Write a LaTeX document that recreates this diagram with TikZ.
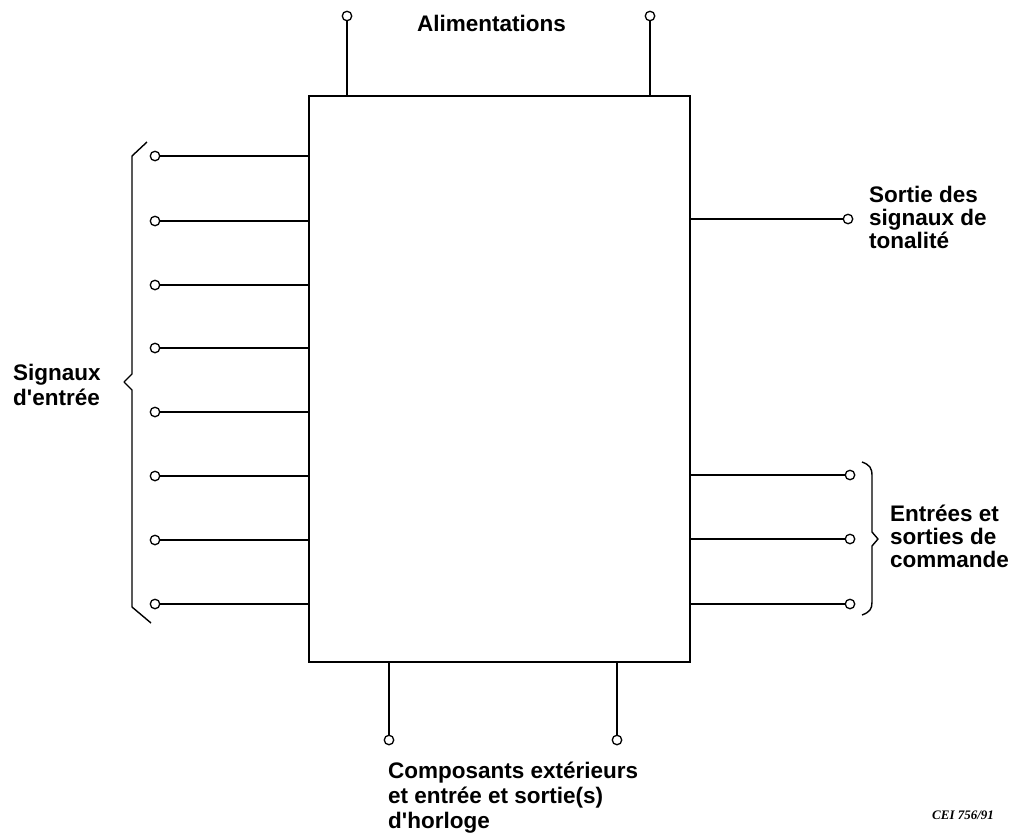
\documentclass[tikz,border=0pt]{standalone}
\usepackage{fontspec}
\setmainfont{Liberation Sans}
\newfontfamily\ceifont{Liberation Serif}
\begin{document}
\begin{tikzpicture}[x=1pt,y=-1pt,
  term/.style={circle,draw,line width=1.3pt,inner sep=0pt,minimum size=9.5pt,fill=white},
  wire/.style={line width=1.4pt},
  lab/.style={font=\bfseries\fontsize{22.5}{24}\selectfont,inner sep=0pt,align=left},
  brace/.style={line width=1.4pt,line join=round}]
\useasboundingbox (0,0) rectangle (1013,833);
\node[draw,line width=1.8pt,minimum width=381pt,minimum height=566pt,inner sep=0pt] (box) at (499.5,379) {};
% top
\node[term] (t1) at (347,16) {};
\node[term] (t2) at (650,16) {};
\draw[wire] (t1) -- (t1 |- box.north);
\draw[wire] (t2) -- (t2 |- box.north);
% left
\foreach \i/\y in {1/156,2/221,3/285,4/348,5/412,6/476,7/540,8/604}{
  \node[term] (l\i) at (155,\y) {};
  \draw[wire] (l\i) -- (l\i -| box.west);
}
% right
\node[term] (r0) at (848,219) {};
\draw[wire] (r0) -- (r0 -| box.east);
\foreach \i/\y in {1/475,2/539,3/604}{
  \node[term] (r\i) at (850,\y) {};
  \draw[wire] (r\i) -- (r\i -| box.east);
}
% bottom
\node[term] (b1) at (389,740) {};
\node[term] (b2) at (617,740) {};
\draw[wire] (b1) -- (b1 |- box.south);
\draw[wire] (b2) -- (b2 |- box.south);
% braces
\coordinate (lbA) at (147,142);
\coordinate (lbB) at (151,623);
\draw[brace] (lbA) -- (132,156) -- (132,374) -- (124,382) -- (132,390) -- (132,607) -- (lbB);
\coordinate (rbA) at (862,462);
\coordinate (rbB) at (862,615);
\draw[brace] (rbA) .. controls (870,465) and (872,468) .. (872,476) -- (872,532) -- (878,539) -- (872,546) -- (872,602) .. controls (872,609) and (870,612) .. (rbB);
% labels
\node[lab,anchor=base west] (alim) at (417,31) {Alimentations};
\node[lab,anchor=base west] (sig1) at (13,380) {Signaux};
\node[lab,anchor=base west] (sig2) at (13,405) {d\textquotesingle entrée};
\node[lab,anchor=base west] (so1) at (869,202) {Sortie des};
\node[lab,anchor=base west] (so2) at (869,225) {signaux de};
\node[lab,anchor=base west] (so3) at (869,248) {tonalité};
\node[lab,anchor=base west] (en1) at (890,521) {Entrées et};
\node[lab,anchor=base west] (en2) at (890,544) {sorties de};
\node[lab,anchor=base west] (en3) at (890,567) {commande};
\node[lab,anchor=base west] (co1) at (388,778) {Composants extérieurs};
\node[lab,anchor=base west] (co2) at (388,803) {et entrée et sortie(s)};
\node[lab,anchor=base west] (co3) at (388,828) {d\textquotesingle horloge};
\node[font=\ceifont\bfseries\itshape\fontsize{13}{15}\selectfont,inner sep=0pt,anchor=base west] (cei) at (932,819) {CEI 756/91};
\end{tikzpicture}
\end{document}
